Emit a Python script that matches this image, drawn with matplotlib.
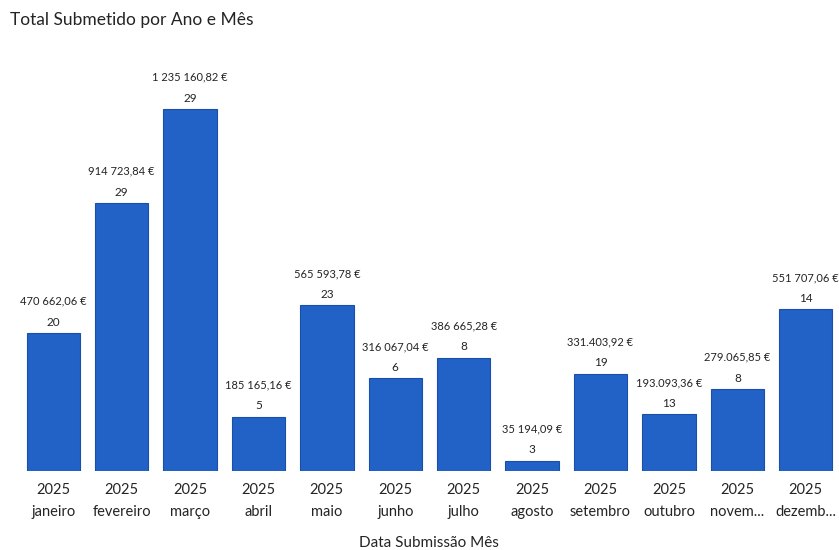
import matplotlib
matplotlib.use("Agg")
import matplotlib.pyplot as plt

# dados
anos = ["2025"] * 12
meses = ["janeiro", "fevereiro", "março", "abril", "maio", "junho",
         "julho", "agosto", "setembro", "outubro", "novem...", "dezemb..."]
totais = [470662.06, 914723.84, 1235160.82, 185165.16, 565593.78, 316067.04,
          386665.28, 35194.09, 331403.92, 193093.36, 279065.85, 551707.06]
rotulos = ["470 662,06 €", "914 723,84 €", "1 235 160,82 €", "185 165,16 €",
           "565 593,78 €", "316 067,04 €", "386 665,28 €", "35 194,09 €",
           "331.403,92 €", "193.093,36 €", "279.065,85 €", "551 707,06 €"]
contagens = [20, 29, 29, 5, 23, 6, 8, 3, 19, 13, 8, 14]

plt.rcParams['font.family'] = ['Lato', 'DejaVu Sans']

fig = plt.figure(figsize=(8.39, 5.5), dpi=100)
ax = fig.add_axes([19 / 839, 79 / 550, 821 / 839, 410 / 550])

x = list(range(len(meses)))
ax.bar(x, totais, width=0.78, color="#2262c6", edgecolor="#1a4fa8", linewidth=0.8)

for i, v in enumerate(totais):
    ax.annotate(str(contagens[i]), (i, v), xytext=(0, 4), textcoords="offset points",
                ha="center", va="bottom", fontsize=8.5, color="#252423")
    ax.annotate(rotulos[i], (i, v), xytext=(0, 19), textcoords="offset points",
                ha="center", va="bottom", fontsize=8, color="#252423")

ax.set_xlim(-0.5, 11.5)
ax.set_ylim(0, 1.4e6)
ax.set_xticks(x)
ax.set_xticklabels([f"{a}\n{m}" for a, m in zip(anos, meses)], fontsize=10.5,
                   color="#252423", linespacing=1.7)
ax.tick_params(axis="x", length=0, pad=9)
ax.set_yticks([])
for s in ax.spines.values():
    s.set_visible(False)

fig.text(429 / 839, 1 - 543 / 550, "Data Submissão Mês", fontsize=11,
         color="#252423", va="center", ha="center")
fig.text(10 / 839, 1 - 20 / 550, "Total Submetido por Ano e Mês", fontsize=12.5,
         color="#252423", va="center", ha="left")

fig.savefig("out.png", dpi=100, facecolor="white")
